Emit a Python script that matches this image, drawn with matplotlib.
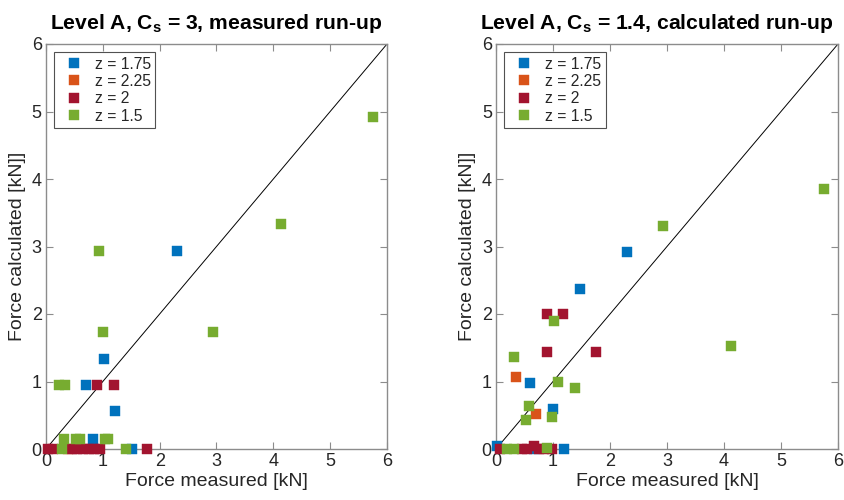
import matplotlib
matplotlib.use("Agg")
import matplotlib.pyplot as plt

plt.rcParams['font.family'] = ['Liberation Sans', 'DejaVu Sans']
plt.rcParams['mathtext.fontset'] = 'custom'
plt.rcParams['mathtext.rm'] = 'Liberation Sans'
plt.rcParams['mathtext.bf'] = 'Liberation Sans:bold'

series_labels = ['z = 1.75', 'z = 2.25', 'z = 2', 'z = 1.5']
series_colors = ['#0072BD', '#D95319', '#A2142F', '#77AC30']

# Panel 1: C_s = 3, measured run-up
p1_z175_x = [2.30, 1.02, 0.70, 1.21, 0.83, 1.52]
p1_z175_y = [2.93, 1.34, 0.95, 0.56, 0.15, 0.00]
p1_z225_x = [0.38]
p1_z225_y = [0.00]
p1_z2_x = [0.90, 1.20, 1.77, 0.03, 0.12, 0.45, 0.55, 0.65, 0.75, 0.85, 0.95]
p1_z2_y = [0.95, 0.95, 0.00, 0.00, 0.00, 0.00, 0.00, 0.00, 0.00, 0.00, 0.00]
p1_z15_x = [5.75, 4.13, 2.93, 0.93, 1.00, 0.23, 0.33, 0.32, 0.53, 0.60, 1.03, 1.09, 0.28, 1.40]
p1_z15_y = [4.92, 3.33, 1.74, 2.93, 1.74, 0.95, 0.95, 0.15, 0.15, 0.15, 0.15, 0.15, 0.00, 0.00]

# Panel 2: C_s = 1.4, calculated run-up
p2_z175_x = [2.30, 1.47, 0.60, 1.00, 0.02, 1.20, 0.67]
p2_z175_y = [2.92, 2.37, 0.98, 0.59, 0.05, 0.00, 0.00]
p2_z225_x = [0.35, 0.70]
p2_z225_y = [1.07, 0.52]
p2_z2_x = [0.89, 1.18, 0.90, 1.75, 0.67, 0.07, 0.45, 0.55, 0.75, 0.85, 0.98]
p2_z2_y = [2.00, 2.00, 1.44, 1.44, 0.05, 0.00, 0.00, 0.00, 0.00, 0.00, 0.00]
p2_z15_x = [5.75, 4.12, 2.93, 1.02, 0.32, 1.09, 1.39, 0.58, 0.53, 0.98, 0.20, 0.32, 0.90]
p2_z15_y = [3.85, 1.52, 3.30, 1.90, 1.36, 0.99, 0.91, 0.64, 0.43, 0.47, 0.00, 0.00, 0.02]

panels = [
    ("Level A, C$_\\mathbf{s}$ = 3, measured run-up", 0.5,
     [(p1_z175_x, p1_z175_y), (p1_z225_x, p1_z225_y), (p1_z2_x, p1_z2_y), (p1_z15_x, p1_z15_y)]),
    ("Level A, C$_\\mathbf{s}$ = 1.4, calculated run-up", 0.47,
     [(p2_z175_x, p2_z175_y), (p2_z225_x, p2_z225_y), (p2_z2_x, p2_z2_y), (p2_z15_x, p2_z15_y)]),
]

ticks = [0, 1, 2, 3, 4, 5, 6]
axis_grey = '#8c8c8c'
text_dark = '#262626'

fig = plt.figure(figsize=(8.45, 5.0), dpi=100)
positions = [[0.0544, 0.102, 0.4036, 0.81], [0.587, 0.102, 0.4047, 0.81]]

for pos, (title, title_x, data) in zip(positions, panels):
    ax = fig.add_axes(pos)
    ax.plot([0, 6], [0, 6], color='black', lw=0.7, zorder=1)
    for (xs, ys), lab, col in zip(data, series_labels, series_colors):
        ax.plot(xs, ys, linestyle='none', marker='s', markersize=7.2,
                markerfacecolor=col, markeredgecolor=col, markeredgewidth=0.3,
                label=lab, clip_on=False, zorder=3)
    ax.set_xlim(0, 6)
    ax.set_ylim(0, 6)
    ax.set_xticks(ticks)
    ax.set_yticks(ticks)
    for s in ax.spines.values():
        s.set_color(axis_grey)
        s.set_linewidth(1.0)
    ax.tick_params(direction='in', length=5, width=0.8, color=axis_grey,
                   top=True, right=True, labelsize=13, labelcolor=text_dark, pad=3)
    ax.set_xlabel('Force measured [kN]', fontsize=14, color=text_dark, labelpad=2)
    ax.set_ylabel('Force calculated [kN]]', fontsize=14, color=text_dark, labelpad=4)
    t = ax.set_title(title, fontsize=15.2, fontweight='bold', color='black', pad=11)
    t.set_x(title_x)
    leg = ax.legend(loc='upper left', fontsize=11.3, frameon=True, fancybox=False,
                    edgecolor='#262626', handlelength=2.0, handletextpad=0.3,
                    borderaxespad=0.5, labelspacing=0.15, borderpad=0.3,
                    markerscale=0.95)
    leg.get_frame().set_linewidth(0.8)
    for txt in leg.get_texts():
        txt.set_color(text_dark)

fig.savefig('out.png', dpi=100)
